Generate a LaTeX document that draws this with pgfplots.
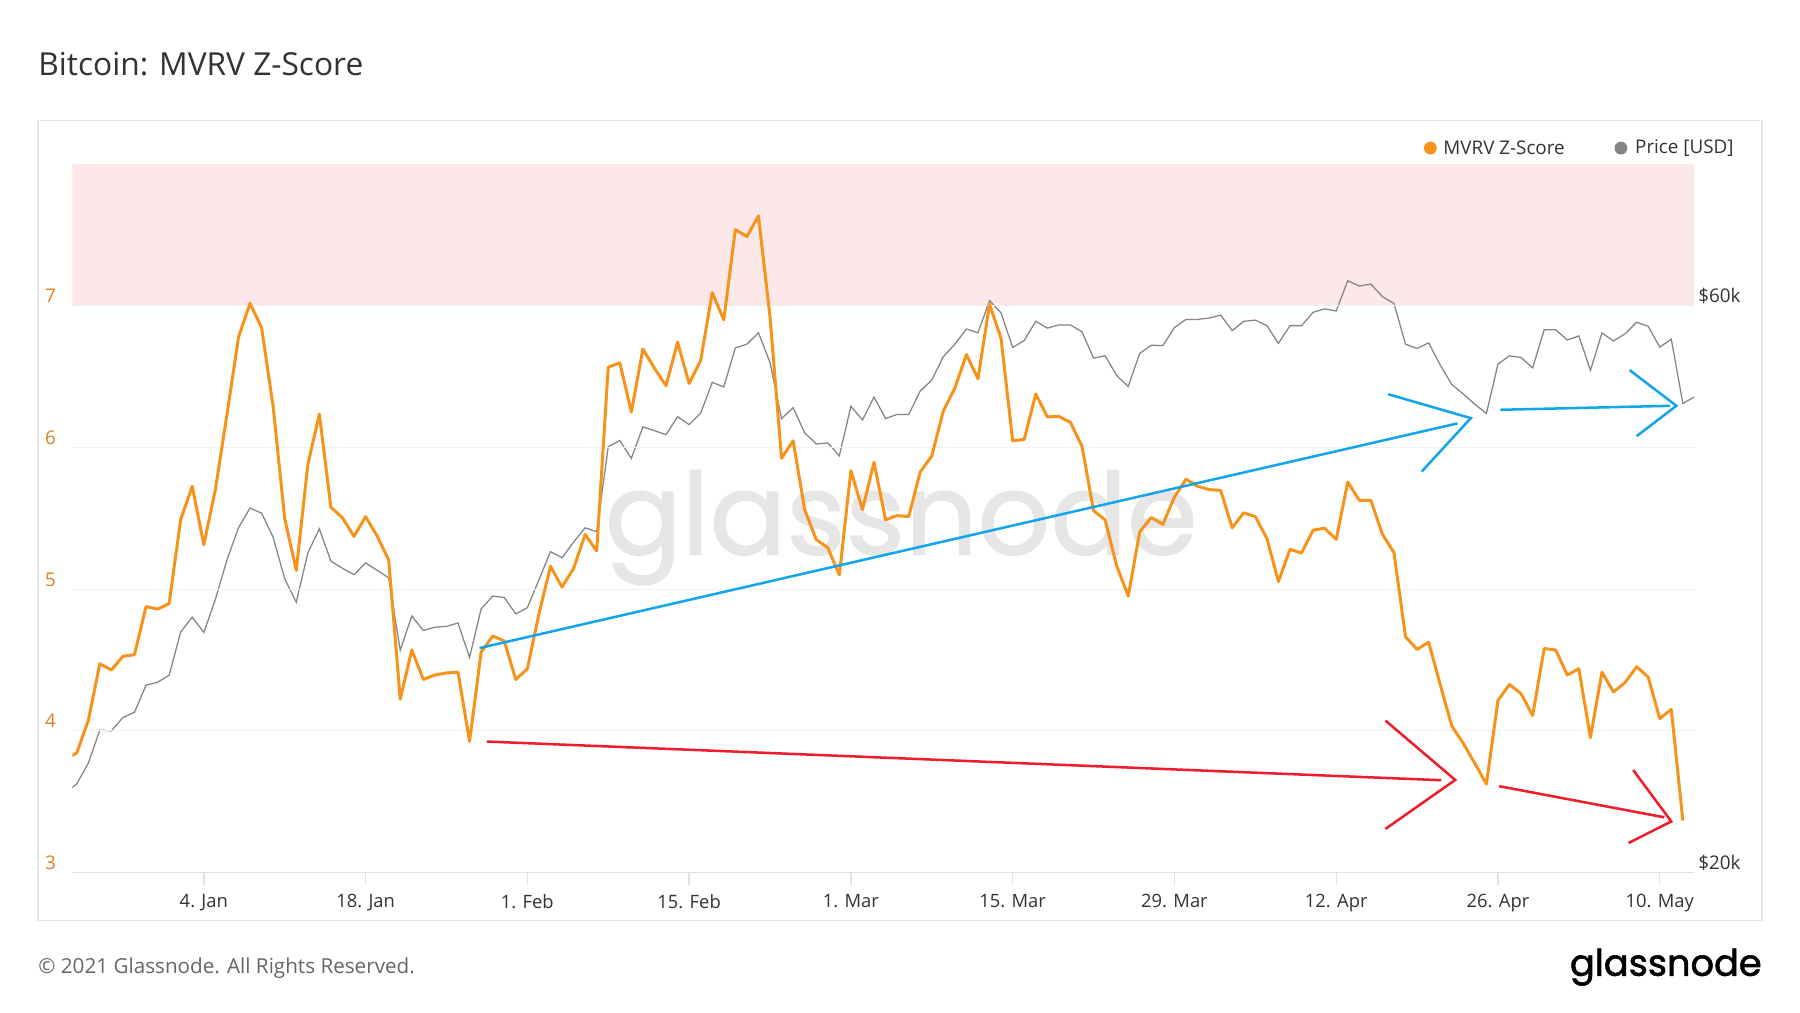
\documentclass[border=0pt]{standalone}
\usepackage{fontspec}
\setmainfont{Open Sans}
\newfontfamily\logofont{Poppins}[FakeBold=1.6]
\newfontfamily\wmfont{Poppins}[FakeBold=1.2]
\usepackage{graphicx}
\usepackage{pgfplots}
\pgfplotsset{compat=1.18}
\definecolor{btc}{HTML}{F7931A}
\definecolor{pricegray}{HTML}{858585}
\definecolor{pinkband}{HTML}{FCE8E9}
\definecolor{wmark}{HTML}{E6E6E6}
\definecolor{gridcol}{HTML}{F0F0F0}
\definecolor{axcol}{HTML}{E2E2E2}
\definecolor{framecol}{HTML}{E4E4E4}
\definecolor{labcol}{HTML}{333333}
\definecolor{orlab}{HTML}{D98324}
\definecolor{footcol}{HTML}{666666}
\definecolor{annblue}{HTML}{12A5EC}
\definecolor{annred}{HTML}{EE1D2B}
\begin{document}
\begin{tikzpicture}
\useasboundingbox (0,0) rectangle (784pt,-441pt);
\fill[white] (0,0) rectangle (784pt,-441pt);
\node[anchor=west, font=\fontsize{13.8}{16}\selectfont, text=labcol, inner sep=0] at (16.5pt,-28pt) {Bitcoin: MVRV Z-Score};
\draw[framecol, line width=0.6pt] (16.5pt,-52.5pt) rectangle (767.5pt,-401pt);

% Price axis (right, log)
\begin{axis}[at={(31.5pt,-71.5pt)}, anchor=north west, width=706.5pt, height=308.5pt, scale only axis,
  xmin=-7.38, xmax=133, ymode=log, ymin=20000, ymax=78961,
  axis x line=none, axis y line*=right, y axis line style={draw=none},
  ytick={20000,60000}, yticklabels={\$20k,\$60k}, ytick style={draw=none},
  yticklabel style={font=\fontsize{8.2}{10}\selectfont, text=labcol, anchor=west, yshift=4.25pt, inner xsep=1.5pt},
  clip=true]
 \fill[pinkband] (rel axis cs:0,0.8) rectangle (rel axis cs:1,1);
 \node[anchor=base, inner sep=0, text=wmark] at (rel axis cs:0.511,0.449) {\resizebox{258pt}{!}{\wmfont glassnode}};
 \addplot[pricegray, line width=0.55pt] coordinates {
(-8,23330) (-7,23740) (-6,24710) (-5,26350) (-4,26310) (-3,27000) (-2,27280) (-1,28750) (0,28910) (1,29310)
(2,31880) (3,32800) (4,31840) (5,33950) (6,36650) (7,39010) (8,40520) (9,40130) (10,38300) (11,35340)
(12,33760) (13,37150) (14,38930) (15,36560) (16,36060) (17,35620) (18,36440) (19,35920) (20,35400) (21,30760)
(22,32880) (23,31960) (24,32170) (25,32220) (26,32430) (27,30340) (28,33330) (29,34170) (30,34080) (31,33010)
(32,33410) (33,35250) (34,37250) (35,36800) (36,37940) (37,39010) (38,38710) (39,45640) (40,46190) (41,44620)
(42,47430) (43,47090) (44,46720) (45,48380) (46,47640) (47,48710) (48,51710) (49,51250) (50,55280) (51,55680)
(52,56930) (53,53730) (54,48200) (55,49230) (56,46890) (57,45890) (58,45980) (59,44840) (60,49370) (61,48070)
(62,50260) (63,48200) (64,48590) (65,48590) (66,50840) (67,51940) (68,54350) (69,55680) (70,57340) (71,56930)
(72,60600) (73,59150) (74,55330) (75,56080) (76,58210) (77,57440) (78,57800) (79,57800) (80,57030) (81,54200)
(82,54440) (83,52400) (84,51300) (85,54700) (86,55560) (87,55530) (88,57500) (89,58420) (90,58420) (91,58570)
(92,58910) (93,57170) (94,58200) (95,58340) (96,57720) (97,55770) (98,57720) (99,57720) (100,59230) (101,59620)
(102,59380) (103,62970) (104,62320) (105,62560) (106,61060) (107,60250) (108,55680) (109,55220) (110,55820) (111,53480)
(112,51500) (113,50550) (114,49550) (115,48680) (116,53570) (117,54440) (118,54260) (119,53180) (120,57260) (121,57260)
(122,56130) (123,56580) (124,52920) (125,56900) (126,56030) (127,56810) (128,58100) (129,57640) (130,55360) (131,56220)
(132,49630) (133,50270)};
\end{axis}

% MVRV axis (left)
\begin{axis}[at={(31.5pt,-71.5pt)}, anchor=north west, width=706.5pt, height=308.5pt, scale only axis,
  xmin=-7.38, xmax=133, ymin=3, ymax=8,
  /pgf/number format/assume math mode=true,
  axis x line*=bottom, axis y line*=left, axis line style={-},
  y axis line style={draw=none}, x axis line style={draw=axcol, line width=0.6pt},
  xtick={4,18,32,46,60,74,88,102,116,130},
  xticklabels={4. Jan,18. Jan,1. Feb,15. Feb,1. Mar,15. Mar,29. Mar,12. Apr,26. Apr,10. May},
  ytick={3,4,5,6,7}, ymajorgrids, major grid style={draw=gridcol, line width=0.5pt},
  ytick style={draw=none}, xtick style={draw=axcol, line width=0.6pt},
  tick align=outside, major tick length=5.5pt,
  xticklabel style={font=\fontsize{8}{10}\selectfont, text=labcol, yshift=-0.5pt},
  yticklabel style={font=\fontsize{8.2}{10}\selectfont, text=orlab, anchor=east, yshift=4.25pt, inner xsep=1.5pt},
  clip=true]
 \addplot[btc, line width=1.3pt, line join=round] coordinates {
(-8,3.80) (-7,3.843) (-6,4.072) (-5,4.473) (-4,4.429) (-3,4.526) (-2,4.537) (-1,4.877) (0,4.859) (1,4.898)
(2,5.492) (3,5.726) (4,5.313) (5,5.703) (6,6.230) (7,6.777) (8,7.018) (9,6.845) (10,6.289) (11,5.498)
(12,5.132) (13,5.878) (14,6.236) (15,5.577) (16,5.504) (17,5.372) (18,5.512) (19,5.375) (20,5.205) (21,4.224)
(22,4.570) (23,4.362) (24,4.394) (25,4.408) (26,4.414) (27,3.925) (28,4.555) (29,4.669) (30,4.634) (31,4.362)
(32,4.438) (33,4.824) (34,5.161) (35,5.015) (36,5.146) (37,5.386) (38,5.269) (39,6.567) (40,6.597) (41,6.250)
(42,6.695) (43,6.559) (44,6.436) (45,6.744) (46,6.452) (47,6.614) (48,7.094) (49,6.900) (50,7.538) (51,7.489)
(52,7.635) (53,6.922) (54,5.924) (55,6.047) (56,5.561) (57,5.350) (58,5.292) (59,5.100) (60,5.836) (61,5.561)
(62,5.895) (63,5.489) (64,5.519) (65,5.512) (66,5.827) (67,5.940) (68,6.258) (69,6.420) (70,6.656) (71,6.485)
(72,7.013) (73,6.767) (74,6.047) (75,6.057) (76,6.378) (77,6.216) (78,6.219) (79,6.177) (80,6.008) (81,5.554)
(82,5.489) (83,5.165) (84,4.951) (85,5.405) (86,5.506) (87,5.457) (88,5.650) (89,5.776) (90,5.726) (91,5.703)
(92,5.697) (93,5.433) (94,5.539) (95,5.512) (96,5.357) (97,5.053) (98,5.281) (99,5.255) (100,5.416) (101,5.430)
(102,5.351) (103,5.756) (104,5.627) (105,5.627) (106,5.387) (107,5.258) (108,4.663) (109,4.575) (110,4.625) (111,4.327)
(112,4.034) (113,3.911) (114,3.770) (115,3.624) (116,4.215) (117,4.327) (118,4.262) (119,4.107) (120,4.581) (121,4.570)
(122,4.394) (123,4.438) (124,3.952) (125,4.414) (126,4.274) (127,4.341) (128,4.452) (129,4.379) (130,4.086) (131,4.151)
(132,3.366)};
 % annotations
 \draw[annblue, line width=1.1pt] (axis cs:27.86,4.584) -- (axis cs:112.5,6.17);
 \draw[annblue, line width=1.1pt] (axis cs:106.5,6.376) -- (axis cs:113.65,6.207) -- (axis cs:109.4,5.83);
 \draw[annblue, line width=1.1pt] (axis cs:116.2,6.266) -- (axis cs:130.9,6.294);
 \draw[annblue, line width=1.1pt] (axis cs:127.4,6.546) -- (axis cs:131.44,6.294) -- (axis cs:128.0,6.08);
 \draw[annred, line width=1.1pt] (axis cs:28.5,3.924) -- (axis cs:111.1,3.651);
 \draw[annred, line width=1.1pt] (axis cs:106.26,4.072) -- (axis cs:112.3,3.653) -- (axis cs:106.26,3.307);
 \draw[annred, line width=1.1pt] (axis cs:116.1,3.609) -- (axis cs:130.4,3.389);
 \draw[annred, line width=1.1pt] (axis cs:127.7,3.723) -- (axis cs:131.0,3.36) -- (axis cs:127.3,3.208);
\end{axis}

% legend
\fill[btc] (623pt,-64.5pt) circle (2.8pt);
\node[anchor=west, font=\fontsize{8.2}{10}\selectfont, text=labcol, inner sep=0] at (628.5pt,-64.5pt) {MVRV Z-Score};
\fill[pricegray] (706pt,-64.5pt) circle (2.8pt);
\node[anchor=west, font=\fontsize{8.2}{10}\selectfont, text=labcol, inner sep=0] at (712pt,-64.5pt) {Price [USD]};

% footer
\node[anchor=west, font=\fontsize{9}{11}\selectfont, text=footcol, inner sep=0] at (16.5pt,-421.5pt) {© 2021 Glassnode. All Rights Reserved.};
\node[anchor=base east, inner sep=0] at (767.5pt,-425pt) {\resizebox{83.5pt}{!}{\logofont glassnode}};
\end{tikzpicture}
\end{document}
